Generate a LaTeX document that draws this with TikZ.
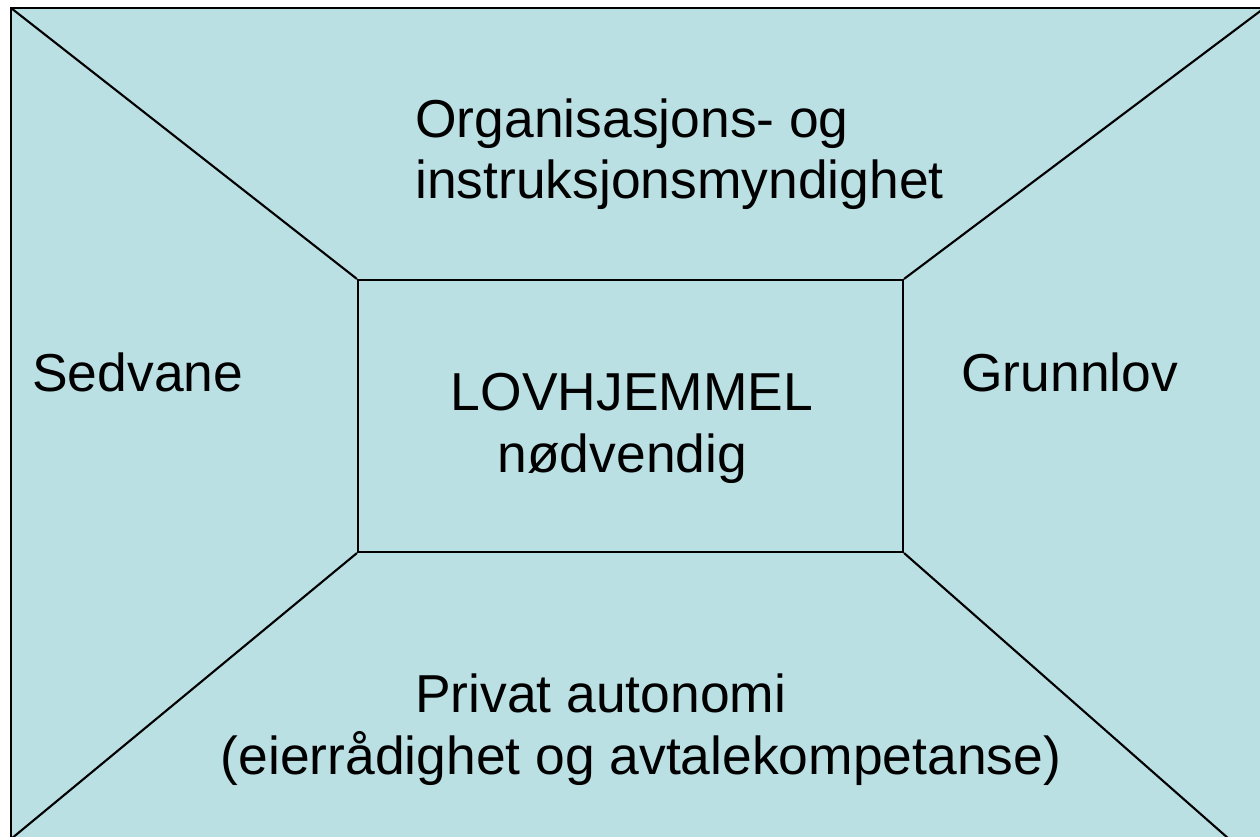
\documentclass[tikz,border=0pt]{standalone}
\usepackage{fontspec}
\setmainfont{Liberation Sans}
\usetikzlibrary{positioning}
\definecolor{feltblaa}{RGB}{187,224,228}
\tikzset{
    felt/.style={font=\fontsize{30.4}{35.1}\selectfont,inner sep=0pt,align=left},
    linje/.style={line width=1.2pt}
}
\begin{document}
\begin{tikzpicture}[x=0.02cm,y=-0.02cm]
        \useasboundingbox (0,0) rectangle (1260,837);
        \clip (0,0) rectangle (1260,837);
        % Background
        \path [fill=feltblaa] (11,8) rectangle (1300,900);
        \draw [linje] (1300,8) -- (11,8) -- (11,900);

        % Corners
        \coordinate (otl) at (11,8);
        \coordinate (otr) at (1263,9);
        \coordinate (obl) at (11,839);
        \coordinate (obr) at (1229,839);

        % Centre box
        \node [draw,linje,minimum width=545*0.02cm,minimum height=272*0.02cm,
            inner sep=0pt] (lov) at (630.5,416) {};
        \draw [linje] (lov.north west) -- (otl);
        \draw [linje] (lov.north east) -- (otr);
        \draw [linje] (lov.south west) -- (obl);
        \draw [linje] (lov.south east) -- (obr);

        % Labels
        \node [felt,anchor=base west] (org) at (415,199)
            {Organisasjons- og\\instruksjonsmyndighet};
        \node [felt,anchor=base west] (sed) at (32,392) {Sedvane};
        \node [felt,anchor=base west] (grl) at (961,392) {Grunnlov};
        \node [felt,align=center,anchor=base] (nod) at (632,472)
            {LOVHJEMMEL\\nødvendig\hspace{11pt}\mbox{}};
        \node [felt,align=center,anchor=base] (priv) at (641,774)
            {Privat autonomi\hspace{46pt}\mbox{}\\(eierrådighet og avtalekompetanse)};
\end{tikzpicture}
\end{document}
